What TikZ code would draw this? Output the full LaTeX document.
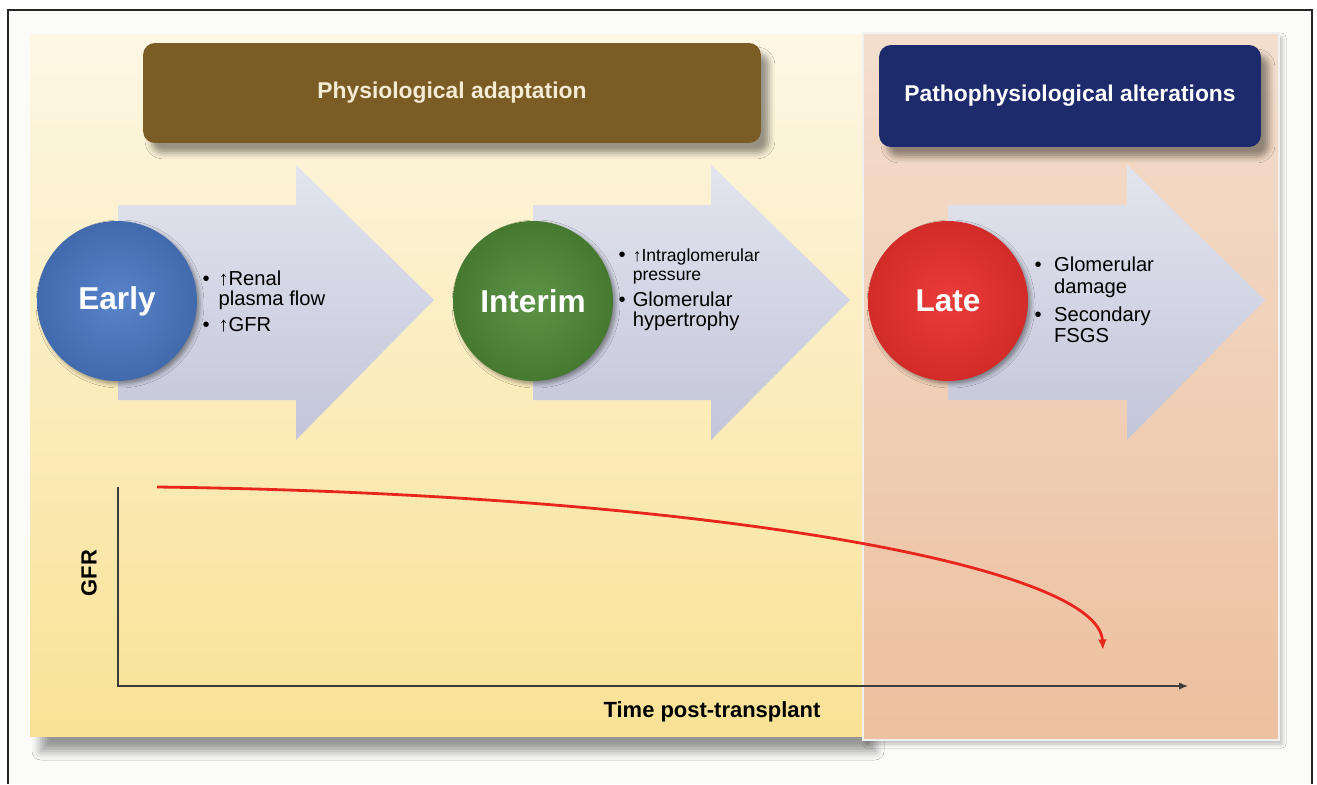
\documentclass[tikz,border=0pt]{standalone}
\usepackage{fontspec}
\setmainfont{Liberation Sans}
\usetikzlibrary{positioning,shadows.blur,arrows.meta}

\definecolor{framebg}{HTML}{FBFBFA}
\definecolor{yellowtop}{HTML}{FDF7E4}
\definecolor{yellowmid}{HTML}{FAE7A4}
\definecolor{yellowbot}{HTML}{F9E295}
\definecolor{pinktop}{HTML}{F3DECD}
\definecolor{pinkbot}{HTML}{EDC09F}
\definecolor{brownbanner}{HTML}{7A5C24}
\definecolor{navybanner}{HTML}{1D2A6C}
\definecolor{arrowtop}{HTML}{E2E4EE}
\definecolor{arrowbot}{HTML}{C3C6D9}
\definecolor{earlyblue}{HTML}{4A79C5}
\definecolor{interimgreen}{HTML}{4F8A37}
\definecolor{latered}{HTML}{E9302D}
\definecolor{curvered}{HTML}{E8261D}
\definecolor{axisgrey}{HTML}{3C3C3C}

\tikzset{
  banner/.style={rounded corners=0.24cm, text=white,
    font=\fontsize{13}{15}\selectfont\bfseries,
    blur shadow={shadow xshift=0.16cm, shadow yshift=-0.2cm,
      shadow blur radius=0.12cm, shadow opacity=40}},
  stagearrow/.style={top color=arrowtop, bottom color=arrowbot},
  stage/.style={circle, minimum size=3.2cm, inner sep=0pt, text=white,
    font=\fontsize{18}{20}\selectfont\bfseries,
    blur shadow={shadow xshift=0.06cm, shadow yshift=-0.06cm,
      shadow blur radius=0.08cm, shadow opacity=40}},
  points/.style={inner sep=0pt, align=left,
    font=\fontsize{11.5}{12.5}\selectfont},
  axisline/.style={draw=axisgrey, line width=0.7pt, -{Latex[length=5pt,width=4pt]}},
  gfrcurve/.style={draw=curvered, line width=1.6pt, -{Latex[length=6pt,width=5pt]}},
  axislabel/.style={font=\fontsize{12.5}{14}\selectfont\bfseries},
}

\begin{document}
\begin{tikzpicture}[x=0.02cm,y=-0.02cm]
    \useasboundingbox (0,0) rectangle (1317,784);
    \fill[white] (0,0) rectangle (1317,784);
    \fill[framebg] (8,10) rectangle (1312,784);
    \draw[line width=1.1pt, black!85] (8,784) -- (8,10) -- (1312,10) -- (1312,784);

    % the two phases
    \shade[top color=yellowtop, middle color=yellowmid, bottom color=yellowbot,
      blur shadow={shadow xshift=0.22cm, shadow yshift=-0.3cm,
        shadow blur radius=0.18cm, shadow opacity=40}]
      (30,35) rectangle (864,736);
    \shade[top color=pinktop, bottom color=pinkbot,
      blur shadow={shadow xshift=0.06cm, shadow yshift=-0.08cm,
        shadow blur radius=0.08cm, shadow opacity=25}]
      (863,33) rectangle (1279,740);
    \draw[white!88!gray, line width=1.5pt] (863,33) rectangle (1279,740);

    \node[banner, fill=brownbanner, text=yellowtop!92!brownbanner,
      minimum width=12.36cm, minimum height=2cm] (physio) at (452,93)
      {Physiological adaptation};
    \node[banner, fill=navybanner, minimum width=7.64cm, minimum height=2.04cm]
      (patho) at (1070,96) {Pathophysiological alterations};

    % stage arrows
    \shade[stagearrow] (118,205) -- (296,205) -- (296,165) -- (434,300) --
      (296,440) -- (296,400) -- (118,400) -- cycle;
    \shade[stagearrow] (533,205) -- (711,205) -- (711,165) -- (850,300) --
      (711,440) -- (711,400) -- (533,400) -- cycle;
    \shade[stagearrow] (948,205) -- (1127,205) -- (1127,165) -- (1265,300) --
      (1127,440) -- (1127,400) -- (948,400) -- cycle;

    % stages
    \node[stage, inner color=earlyblue!92!white, outer color=earlyblue!88!black]
      (early) at (117,301) {Early};
    \node[stage, inner color=interimgreen!92!white, outer color=interimgreen!88!black]
      (interim) at (533,301) {Interim};
    \node[stage, inner color=latered!94!white, outer color=latered!90!black]
      (late) at (948,301) {Late};

    \node[points, right=0.1cm of early, yshift=-0.06cm] (earlypts) {%
      \begin{tabular}{@{}l@{\hspace{5pt}}l@{}}
        • & ↑Renal\\[-1pt]
          & plasma flow\\[2.5pt]
        • & ↑GFR
      \end{tabular}};
    \node[points, right=0.1cm of interim, yshift=0.22cm] (interimpts) {%
      \begin{tabular}{@{}l@{\hspace{4pt}}l@{}}
        • & {\fontsize{10}{10}\selectfont↑Intraglomerular}\\[-2pt]
          & {\fontsize{10}{10}\selectfont pressure}\\[2.5pt]
        • & Glomerular\\[-1pt]
          & hypertrophy
      \end{tabular}};
    \node[points, right=0.12cm of late, yshift=-0.04cm] (latepts) {%
      \begin{tabular}{@{}l@{\hspace{7pt}}l@{}}
        • & Glomerular\\
          & damage\\[3pt]
        • & Secondary\\
          & FSGS
      \end{tabular}};

    % GFR over time
    \coordinate (origin) at (118,686);
    \coordinate (ytop) at (118,487);
    \coordinate (xend) at (1188,686);
    \draw[axisline] (ytop) -- (origin) -- (xend);

    \coordinate (gfrstart) at (157,487);
    \coordinate (gfrend) at (1103,650);
    \draw[gfrcurve] (gfrstart) .. controls (700,494) and (1098,565) .. (gfrend);

    \node[axislabel, rotate=90] (gfrlabel) at (89,573) {GFR};
    \node[axislabel] (timelabel) at (712,712) {Time post-transplant};
\end{tikzpicture}
\end{document}
